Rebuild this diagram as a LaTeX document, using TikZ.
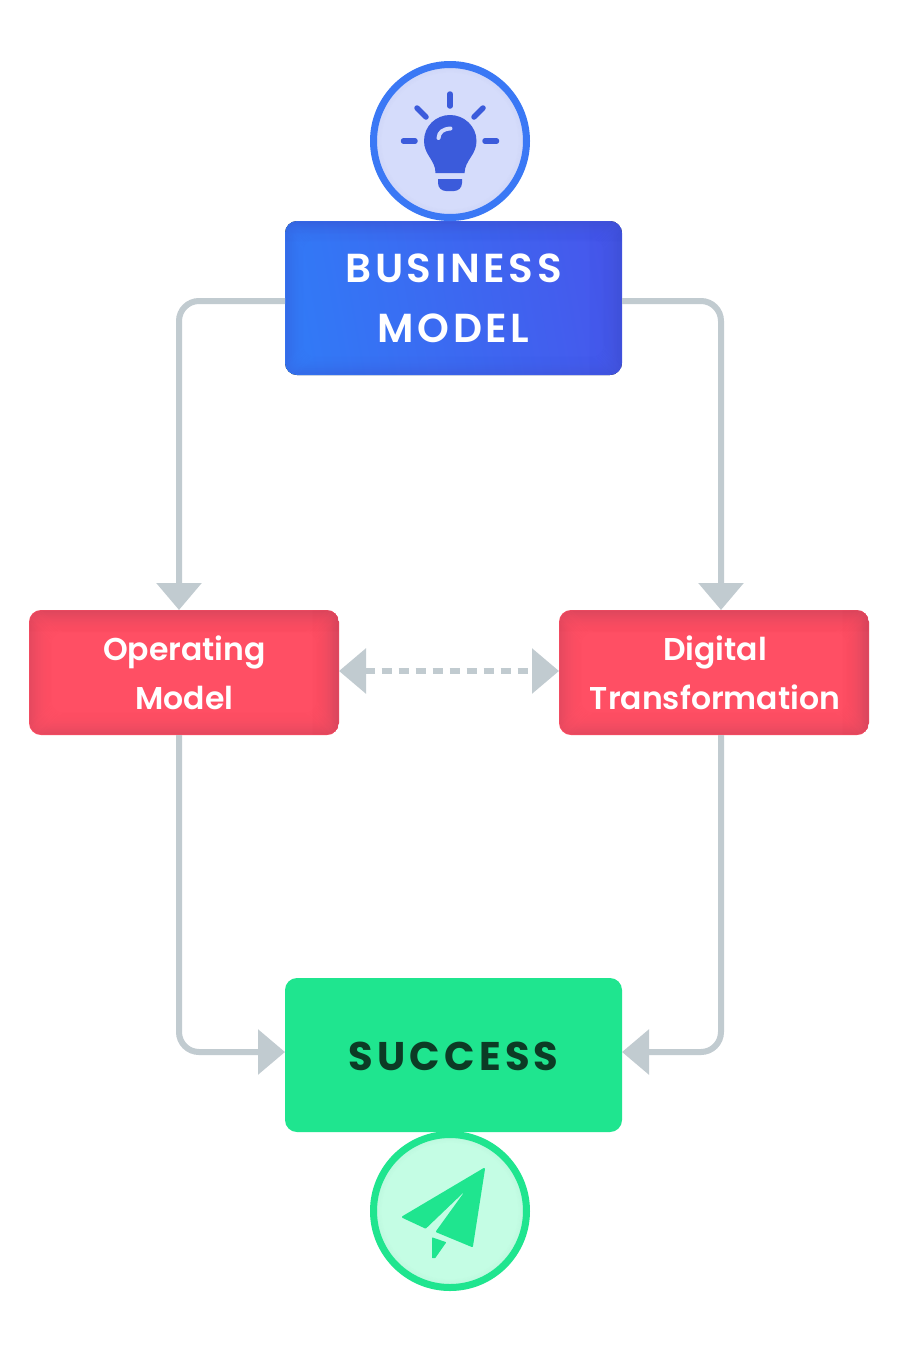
\documentclass[tikz,border=0pt]{standalone}
\usepackage{fontspec}
\setmainfont{Poppins}[UprightFont=* Medium,BoldFont=* SemiBold]
\newfontfamily\spacedfont{Poppins}[UprightFont=* Medium,BoldFont=* SemiBold,LetterSpace=9]
\newfontfamily\widefont{Poppins}[UprightFont=* Medium,BoldFont=* Bold,LetterSpace=10.5]
\usetikzlibrary{arrows.meta}
\definecolor{linegrey}{HTML}{C1CBD0}
\definecolor{redbase}{HTML}{FF4F64}
\definecolor{reddark}{HTML}{B83F58}
\definecolor{bluel}{HTML}{3279F6}
\definecolor{bluer}{HTML}{4658EC}
\definecolor{bluedark}{HTML}{3A4BC8}
\definecolor{greenbase}{HTML}{1FE58F}
\definecolor{ringblue}{HTML}{3A78F5}
\definecolor{discblue}{HTML}{D5DCFB}
\definecolor{iconblue}{HTML}{3B5BDB}
\definecolor{discgreen}{HTML}{C4FDE4}
\definecolor{darkgreen}{HTML}{0C3B25}
\newcommand\innerglow[3]{%
  \foreach \k in {1,...,#2}{%
    \pgfmathsetmacro\op{#3*(1-\k/#2)^2}%
    \draw[#1,opacity=\op,line width=1.2pt,rounded corners=12pt]
      ([shift={(\k pt,\k pt)}]path picture bounding box.south west) rectangle
      ([shift={(-\k pt,-\k pt)}]path picture bounding box.north east);
  }}
\newcommand\rightglow[3]{%
  \foreach \k in {0,...,#2}{%
    \pgfmathsetmacro\op{#3*(1-\k/#2)^2}%
    \draw[#1,opacity=\op,line width=1.2pt]
      ([xshift=-\k pt]path picture bounding box.north east) --
      ([xshift=-\k pt]path picture bounding box.south east);
  }}
\newcommand\topglow[3]{%
  \foreach \k in {0,...,#2}{%
    \pgfmathsetmacro\op{#3*(1-\k/#2)^2}%
    \draw[#1,opacity=\op,line width=1.2pt]
      ([yshift=-\k pt]path picture bounding box.north west) --
      ([yshift=-\k pt]path picture bounding box.north east);
  }}
\newcommand\discglow[3]{%
  \foreach \k in {1,...,#2}{%
    \pgfmathsetmacro\op{#3*(1-\k/#2)^2}%
    \pgfmathsetmacro\rr{76.5-\k}%
    \draw[#1,opacity=\op,line width=1.2pt] (path picture bounding box.center) circle[radius=\rr pt];
  }}
\tikzset{
  boxbase/.style={rectangle,rounded corners=12pt,inner sep=0pt,outer sep=0pt,align=center},
  bluebox/.style={boxbase,minimum width=337pt,minimum height=154pt,text=white,
    font={\spacedfont\bfseries\fontsize{40.5}{60}\selectfont},
    path picture={
      \fill[left color=bluel,right color=bluer,shading angle=100]
        (path picture bounding box.south west) rectangle (path picture bounding box.north east);
      \innerglow{bluedark}{20}{0.28}
      \rightglow{bluedark}{36}{0.16}
      \topglow{bluedark}{24}{0.12}
    }},
  redbox/.style={boxbase,minimum width=310pt,minimum height=125pt,text=white,
    font={\bfseries\fontsize{31.5}{49}\selectfont},
    path picture={
      \fill[redbase] (path picture bounding box.south west) rectangle (path picture bounding box.north east);
      \innerglow{reddark}{24}{0.32}
      \rightglow{reddark}{30}{0.14}
      \topglow{reddark}{26}{0.08}
    }},
  greenbox/.style={boxbase,minimum width=337pt,minimum height=154pt,fill=greenbase,text=darkgreen,
    font={\widefont\bfseries\fontsize{40}{60}\selectfont}},
  disc/.style={circle,minimum size=153pt,inner sep=0pt,outer sep=0pt,line width=7pt},
  link/.style={draw=linegrey,line width=6pt,rounded corners=20pt},
  tip/.style={-{Triangle[width=44pt,length=27pt]}},
  dotted link/.style={draw=linegrey,line width=6pt,dash pattern=on 10pt off 7pt,
    {Triangle[width=44pt,length=27pt]}-{Triangle[width=44pt,length=27pt]}},
  ray/.style={iconblue,line width=5.5pt,line cap=round}
}
\begin{document}
\begin{tikzpicture}[x=1pt,y=-1pt]
\useasboundingbox (0,0) rectangle (900,1350);
\fill[white] (0,0) rectangle (900,1350);

% boxes
\node[bluebox] (business) at (453.5,298) {\rule{0pt}{30pt}BUSINESS\\MODEL};
\node[redbox] (operating) at (184,672.5) {\hspace*{1pt}Operating\\\hspace*{1pt}Model};
\node[redbox] (digital) at (714,672.5) {\hspace*{2pt}Digital\\\hspace*{2pt}Transformation};
\node[greenbox] (success) at (453.5,1055) {\rule{0pt}{31pt}SUCCESS};

% connectors
\draw[link,tip] ([yshift=-3pt]business.west) -- ++(-106,0) -- ([xshift=-5pt]operating.north);
\draw[link,tip] ([yshift=-3pt]business.east) -- ++(99,0) -- ([xshift=7pt]digital.north);
\draw[link,tip] ([xshift=-5pt]operating.south) -- ++(0,317) -- ([yshift=3pt]success.west);
\draw[link,tip] ([xshift=7pt]digital.south) -- ++(0,317) -- ([yshift=3pt]success.east);
\draw[dotted link] ([yshift=1.5pt]operating.east) -- ([yshift=1.5pt]digital.west);

% top disc with bulb
\node[disc,draw=ringblue,fill=discblue,path picture={\discglow{iconblue}{10}{0.07}}] (idea) at (450,141) {};
\begin{scope}
  \draw[ray] (450,94) -- (450,106);
  \draw[ray] (403.5,141) -- (415,141);
  \draw[ray] (485,141) -- (496.5,141);
  \draw[ray] (417,108) -- (426,117);
  \draw[ray] (483,108) -- (474,117);
  \fill[iconblue] (435.5,173)
     .. controls (435.5,160) and (424,155) .. (424,141)
     .. controls (424,126) and (436,115) .. (450,115)
     .. controls (464,115) and (476.5,126) .. (476.5,141)
     .. controls (476.5,155) and (465,160) .. (464.5,173) -- cycle;
  \fill[iconblue] (438,179) -- (462,179) -- (462,183)
     .. controls (462,188) and (458,191) .. (454,191) -- (446,191)
     .. controls (442,191) and (438,188) .. (438,183) -- cycle;
  \draw[discblue,line width=4pt,line cap=round] (438.5,138) .. controls (439,132) and (443,129) .. (450.5,128.5);
\end{scope}

% bottom disc with plane
\node[disc,draw=greenbase,fill=discgreen,path picture={\discglow{greenbase!70!black}{10}{0.07}}] (plane) at (450,1211) {};
\fill[greenbase,draw=greenbase,line width=2pt,line join=round]
  (484,1169) -- (403,1217) -- (425.5,1227.5) -- (472,1183) -- (437,1231.5) -- (472,1246) -- cycle;
\fill[greenbase,draw=greenbase,line width=1pt,line join=round]
  (432.5,1238) -- (445.5,1242.5) -- (435,1257.5) -- (432.5,1257.5) -- cycle;
\end{tikzpicture}
\end{document}
